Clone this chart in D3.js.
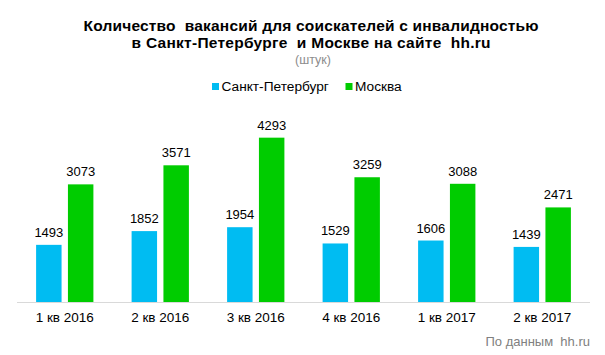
<!DOCTYPE html>
<html>
<head>
<meta charset="utf-8">
<script src="https://cdn.jsdelivr.net/npm/d3@7"></script>
<style>
  html, body { margin: 0; padding: 0; background: #ffffff; }
  svg { display: block; font-family: "Liberation Sans", Arial, sans-serif; }
  text { white-space: pre; }
</style>
</head>
<body>
<svg id="chart" width="605" height="355"></svg>
<script>
const categories = ["1 кв 2016", "2 кв 2016", "3 кв 2016", "4 кв 2016", "1 кв 2017", "2 кв 2017"];
const seriesNames = ["Санкт-Петербург", "Москва"];
const spbValues = [1493, 1852, 1954, 1529, 1606, 1439];
const mskValues = [3073, 3571, 4293, 3259, 3088, 2471];
const titleLines = ["Количество  вакансий для соискателей с инвалидностью", "в Санкт-Петербурге  и Москве на сайте  hh.ru"];
const subtitle = "(штук)";
const sourceText = "По данным  hh.ru";

const colors = { "Санкт-Петербург": "#00BCF2", "Москва": "#00CC00" };
const seriesValues = { "Санкт-Петербург": spbValues, "Москва": mskValues };

const svg = d3.select("#chart");

const x0 = d3.scaleBand().domain(categories).range([17, 590]).paddingInner(0.4).paddingOuter(0.2);
const x1 = d3.scaleBand().domain(seriesNames).range([0, x0.bandwidth()]).paddingInner(0.2);
const y = d3.scaleLinear().domain([0, 5000]).range([302, 110.6]);

// Title
const titleWidths = [455, 359];
svg.selectAll("text.title").data(titleLines).enter().append("text")
  .attr("class", "title")
  .attr("x", 311)
  .attr("y", (d, i) => 31 + i * 17)
  .attr("text-anchor", "middle")
  .attr("font-size", 15.5)
  .attr("font-weight", "bold")
  .attr("fill", "#000")
  .attr("textLength", (d, i) => titleWidths[i])
  .attr("lengthAdjust", "spacing")
  .text(d => d);

svg.append("text")
  .attr("x", 313).attr("y", 63.5)
  .attr("text-anchor", "middle")
  .attr("font-size", 12.5)
  .attr("fill", "#8c8c8c")
  .text(subtitle);

// Legend
const legendX = [212, 345.5];
const lg = svg.selectAll("g.legend").data(seriesNames).enter().append("g")
  .attr("class", "legend")
  .attr("transform", (d, i) => `translate(${legendX[i]},0)`);
lg.append("rect").attr("x", 0).attr("y", 83).attr("width", 7).attr("height", 7).attr("fill", d => colors[d]);
lg.append("text").attr("x", 9.5).attr("y", 90.5).attr("font-size", 13.7).attr("fill", "#000").text(d => d);

// Axis line
svg.append("line")
  .attr("x1", 17).attr("x2", 590)
  .attr("y1", 302.5).attr("y2", 302.5)
  .attr("stroke", "#d9d9d9").attr("stroke-width", 1);

// Bars
const groups = svg.selectAll("g.grp").data(categories).enter().append("g")
  .attr("class", "grp")
  .attr("transform", d => `translate(${x0(d)},0)`);

groups.selectAll("rect").data((c, i) => seriesNames.map(s => ({ s, v: seriesValues[s][i] })))
  .enter().append("rect")
  .attr("x", d => x1(d.s))
  .attr("width", x1.bandwidth())
  .attr("y", d => y(d.v))
  .attr("height", d => y(0) - y(d.v))
  .attr("fill", d => colors[d.s]);

groups.selectAll("text.val").data((c, i) => seriesNames.map(s => ({ s, v: seriesValues[s][i] })))
  .enter().append("text")
  .attr("class", "val")
  .attr("x", d => x1(d.s) + x1.bandwidth() / 2)
  .attr("y", d => y(d.v) - 8)
  .attr("text-anchor", "middle")
  .attr("font-size", 13)
  .attr("fill", "#000")
  .text(d => d.v);

// Category labels
svg.selectAll("text.cat").data(categories).enter().append("text")
  .attr("class", "cat")
  .attr("x", d => x0(d) + x0.bandwidth() / 2)
  .attr("y", 322)
  .attr("text-anchor", "middle")
  .attr("font-size", 13.5)
  .attr("fill", "#000")
  .text(d => d);

// Source
svg.append("text")
  .attr("x", 590).attr("y", 346)
  .attr("text-anchor", "end")
  .attr("font-size", 13)
  .attr("fill", "#808080")
  .text(sourceText);
</script>
</body>
</html>
